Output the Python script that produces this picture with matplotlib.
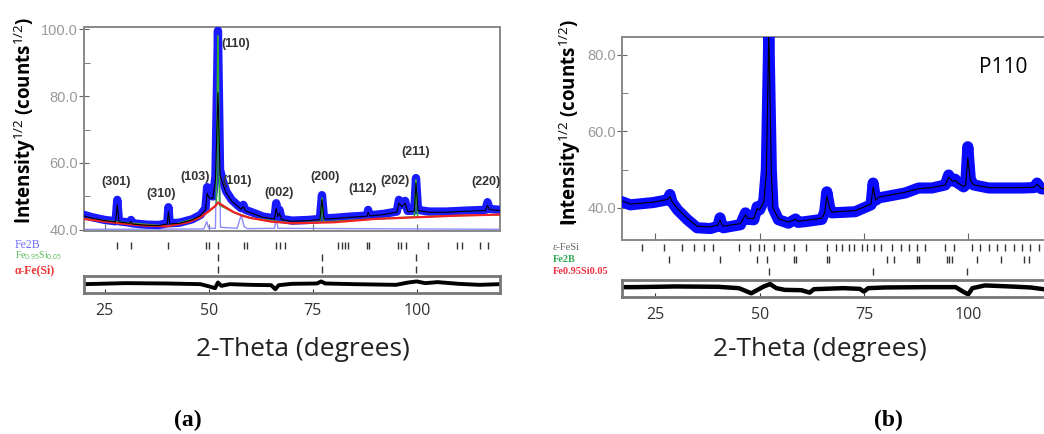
import matplotlib
matplotlib.use("Agg")
import matplotlib.pyplot as plt
from matplotlib.lines import Line2D

plt.rcParams['font.family'] = ['Open Sans', 'DejaVu Sans']
plt.rcParams['mathtext.fontset'] = 'custom'
plt.rcParams['mathtext.rm'] = 'Open Sans'
plt.rcParams['mathtext.bf'] = 'Open Sans:bold'

# ---------------- panel (a) data ----------------
a_obs_x = [20, 22, 25, 27.6, 28.0, 28.4, 31, 31.3, 31.6, 35, 38, 40.0, 40.3, 40.6, 43, 46, 48,
           49.2, 49.6, 50.1, 51.0, 51.6, 52.2, 52.7, 53.3, 54.2, 55.5, 57, 57.8, 58.3, 58.8, 61,
           63, 65.8, 66.2, 66.6, 67.0, 67.5, 70, 74, 76.7, 77.2, 77.7, 80, 84, 88.0, 88.3, 88.7,
           92, 95.2, 95.7, 96.4, 97.2, 97.8, 99.4, 99.8, 100.3, 103, 107, 112, 116.5, 117.0,
           117.5, 120]
a_obs_y = [44.5, 43.8, 43.0, 42.6, 49.0, 42.6, 42.2, 43.0, 42.0, 41.6, 41.5, 42.0, 46.8, 42.0,
           42.2, 43.2, 44.5, 46.5, 52.8, 50.5, 50.0, 56.0, 99.5, 58.0, 55.0, 51.5, 49.0, 47.3,
           46.5, 47.5, 46.0, 45.0, 44.0, 43.5, 48.0, 44.5, 46.0, 43.3, 42.8, 43.0, 43.3, 50.4,
           43.5, 43.6, 44.0, 44.3, 46.0, 44.4, 44.8, 45.5, 49.0, 47.5, 48.7, 45.7, 45.8, 55.5,
           46.0, 45.5, 45.5, 45.8, 46.0, 48.3, 46.3, 46.0]
a_calc_y = [44.2, 43.5, 42.8, 42.4, 47.5, 42.4, 42.0, 42.5, 41.8, 41.4, 41.3, 41.8, 45.5, 41.8,
            42.0, 43.0, 44.3, 46.0, 51.0, 49.5, 49.5, 55.0, 81.0, 56.5, 54.0, 51.0, 48.6, 47.0,
            46.2, 47.0, 45.7, 44.7, 43.8, 43.3, 46.5, 44.0, 45.0, 43.1, 42.6, 42.8, 43.1, 49.0,
            43.3, 43.4, 43.8, 44.1, 45.3, 44.2, 44.6, 45.3, 48.0, 47.0, 48.0, 45.5, 45.6, 54.0,
            45.8, 45.3, 45.3, 45.6, 45.8, 47.3, 46.1, 45.8]

a_bg_x = [20, 25, 30, 35, 40, 45, 48, 50, 51.5, 52.2, 53, 54, 56, 58, 60, 65, 70, 80, 90, 100,
          110, 120]
a_bg_y = [43.3, 42.5, 41.8, 41.3, 41.1, 42.3, 43.8, 45.6, 47.1, 48.2, 47.6, 46.8, 45.3, 44.3,
          43.6, 42.5, 42.0, 42.3, 43.3, 43.8, 44.3, 44.6]

a_fesi_x = [20, 40, 48, 51.8, 52.2, 52.6, 56, 60, 70, 76.8, 77.2, 77.6, 90, 99.4, 99.8, 100.2,
            110, 120]
a_fesi_y = [43.3, 41.1, 43.8, 47.4, 98.0, 47.4, 45.3, 43.6, 42.0, 42.4, 49.5, 42.4, 43.3, 43.9,
            55.0, 43.9, 44.3, 44.6]

a_fe2b_x = [20, 48.8, 49.5, 50.0, 51.6, 52.2, 52.8, 56.8, 57.8, 58.5, 59.3, 65.8, 66.2, 66.6, 120]
a_fe2b_y = [40.2, 40.3, 42.5, 40.5, 40.5, 99.5, 40.8, 40.5, 44.5, 41.0, 40.4, 40.5, 44.0, 40.5, 40.2]

a_diff_x = [20, 30, 40, 48, 50.5, 51.5, 52.2, 53, 55, 60, 65, 66, 66.8, 70, 76, 77, 78, 85, 95,
            98, 100, 102, 105, 110, 115, 120]
a_diff_y = [0, 0.3, 0.2, 0, -0.8, -1.2, 0.5, -0.5, 0, -0.2, -0.3, -1.5, -0.3, 0.1, 0.2, 0.8, 0.2,
            0, -0.2, 0.5, 0.8, 0.3, 0.6, 0.1, -0.2, 0]

a_fe2b_refl = [28.0, 31.2, 40.3, 49.3, 50.1, 52.3, 58.5, 59.1, 66.2, 67.0, 68.3, 81.1, 81.9, 82.7,
               83.5, 88.0, 88.4, 95.6, 96.3, 97.5, 102.8, 109.6, 110.8, 115.2, 117.2]
a_fesi_refl = [52.2, 77.1, 99.8]

a_hkl = ['(301)', '(310)', '(103)', '(110)', '(101)', '(002)', '(200)', '(112)', '(202)',
         '(211)', '(220)']
a_hkl_pos = [(27.7, 54.3), (38.5, 50.7), (46.6, 55.8), (56.4, 95.5), (56.8, 54.6), (66.9, 51.0),
             (78.0, 55.8), (86.9, 52.2), (94.8, 54.6), (99.8, 63.3), (116.6, 54.3)]

# ---------------- panel (b) data ----------------
b_obs_x = [17, 19, 24.5, 27.9, 28.5, 29.0, 30.3, 32.7, 35, 38.2, 40.0, 40.5, 41.0, 41.3, 45.4,
           46.6, 47.2, 48.6, 49.4, 50.0, 51, 51.6, 52.2, 52.8, 53.2, 54.5, 56.9, 58.6, 59.2, 60.9,
           64.9, 65.6, 66.1, 66.8, 67.3, 72.9, 76.7, 77.2, 77.8, 78.5, 84.9, 88.1, 91.3, 94.5,
           95.3, 96.2, 96.9, 97.5, 98.9, 99.4, 99.9, 100.5, 101.3, 104.9, 112.9, 115.8, 116.5,
           117.5, 122]
b_obs_y = [41.6, 40.8, 41.4, 42.1, 43.5, 41.5, 39.5, 36.9, 34.8, 34.6, 35.2, 37.4, 35.2, 34.8,
           35.6, 38.7, 37.0, 36.9, 40.3, 39.5, 42.0, 50.0, 86.0, 50.0, 40.0, 36.9, 36.0, 37.1,
           36.2, 36.4, 37.0, 39.0, 44.2, 40.0, 38.7, 39.0, 40.8, 46.5, 42.0, 42.6, 43.9, 45.2,
           45.2, 46.0, 48.6, 47.0, 47.5, 46.5, 45.5, 46.0, 56.0, 47.5, 46.0, 45.2, 45.2, 45.3,
           46.5, 45.0, 44.5]
b_calc_y = [41.8, 41.0, 41.5, 42.2, 43.0, 41.6, 39.8, 37.2, 35.2, 35.0, 35.5, 36.8, 35.5, 35.2,
            35.9, 38.2, 37.2, 37.2, 39.8, 39.5, 41.5, 49.0, 86.0, 49.0, 40.0, 37.2, 36.3, 37.0,
            36.5, 36.7, 37.3, 38.8, 43.0, 39.8, 38.9, 39.3, 41.0, 45.5, 42.0, 42.8, 44.1, 45.0,
            45.3, 46.0, 48.0, 47.0, 47.2, 46.5, 45.6, 46.0, 53.0, 47.2, 46.0, 45.3, 45.3, 45.4,
            46.2, 45.1, 44.6]

b_diff_x = [17, 20, 30, 40, 45, 47, 48, 49.5, 51, 52.5, 54, 56, 60, 62, 63, 70, 74, 75, 76, 80,
            90, 97, 99, 100, 101, 104, 110, 115, 118, 122]
b_diff_y = [0.3, 0.3, 0.5, 0.4, 0, -1, -1.5, -0.5, 0.5, 1.2, 0, -0.5, -0.6, -1.3, -0.3, 0, -0.2,
            -1, 0, 0.2, 0.3, 0.3, -1.2, -1.8, 0, 0.8, 0.5, 0.2, -0.3, 0]

b_efesi_refl = [21.8, 27.0, 31.4, 34.2, 36.6, 38.8, 45.0, 47.8, 49.8, 51.0, 53.4, 55.8, 58.2,
                61.0, 66.2, 68.2, 69.8, 71.4, 72.6, 74.6, 75.8, 77.4, 79.0, 81.8, 83.8, 85.7,
                87.8, 89.7, 94.5, 96.5, 100.9, 102.9, 104.9, 106.9, 108.9, 110.9, 112.9, 114.9,
                116.9]
b_fe2b_refl = [28.2, 40.4, 49.4, 51.8, 58.2, 58.6, 66.2, 66.6, 80.6, 82.2, 87.8, 88.2, 95.0,
               95.4, 96.2, 102.1, 107.8, 113.4, 114.6]
b_fesi_refl = [52.2, 77.1, 99.8]

W, H = 1044, 434


def rect(x0, y0, x1, y1):
    return [x0 / W, 1 - y1 / H, (x1 - x0) / W, (y1 - y0) / H]


def style_main(ax, ylim, yt, ymin):
    ax.set_ylim(*ylim)
    ax.set_yticks(yt)
    ax.set_yticklabels(['%.1f' % v for v in yt])
    ax.set_yticks(ymin, minor=True)
    ax.set_xticks([25, 50, 75, 100])
    ax.tick_params(axis='x', direction='in', length=5, labelbottom=False, color='#666')
    ax.tick_params(axis='y', which='major', direction='inout', length=7, color='#666',
                   labelcolor='#999', labelsize=10.5, pad=1)
    ax.tick_params(axis='y', which='minor', direction='in', length=4, color='#666')
    for lab in ax.get_yticklabels():
        lab.set_family('Liberation Sans')
    for s in ax.spines.values():
        s.set_color('#888')
        s.set_linewidth(1.4)


def refl_rows(ax, rows, colors):
    ax.set_ylim(0, len(rows))
    ax.axis('off')
    n = len(rows)
    for i, (pos, c) in enumerate(zip(rows, colors)):
        lo = n - i - 1
        ax.vlines(pos, lo + 0.25, lo + 0.8, color=c, lw=1.0)


def style_diff(ax, xlim):
    ax.set_xlim(*xlim)
    ax.set_ylim(-2.6, 2.4)
    ax.set_yticks([])
    ax.set_xticks([25, 50, 75, 100])
    ax.tick_params(axis='x', direction='in', length=3, colors='#333', labelsize=11.5, pad=7)
    for s in ax.spines.values():
        s.set_color('#777')
        s.set_linewidth(2.0)


fig = plt.figure(figsize=(W / 100, H / 100), dpi=100)

# ---------------- (a) ----------------
ax = fig.add_axes(rect(84, 27, 500, 231))
ax.set_xlim(20, 120)
ax.plot(a_fe2b_x, a_fe2b_y, color='#8c8cff', lw=1.0, zorder=2)
ax.plot(a_obs_x, a_obs_y, color='#1a1aff', lw=6, zorder=3, solid_joinstyle='round')
ax.plot(a_fesi_x, a_fesi_y, color='#33aa33', lw=1.2, zorder=3.5)
ax.plot(a_bg_x, a_bg_y, color='#ee2222', lw=1.6, zorder=4)
ax.plot(a_obs_x, a_calc_y, color='black', lw=0.8, zorder=6)
style_main(ax, (39.7, 100.6), [40, 60, 80, 100], [50, 70, 90])
for lab, (hx, hy) in zip(a_hkl, a_hkl_pos):
    ax.text(hx, hy, lab, ha='center', va='center', fontsize=9, fontweight='bold',
            color='#333', family='Liberation Sans')

axr = fig.add_axes(rect(84, 240, 500, 276))
axr.set_xlim(20, 120)
refl_rows(axr, [a_fe2b_refl, a_fesi_refl, a_fesi_refl], ['#333', '#333', '#333'])

axd = fig.add_axes(rect(84, 276, 500, 293))
axd.plot(a_diff_x, a_diff_y, color='black', lw=2.8)
style_diff(axd, (20, 120))

fig.text(25 / W, 1 - 120 / H, r'Intensity$^{1/2}$ (counts$^{1/2}$)', rotation=90,
         ha='center', va='center', fontsize=13.5, fontweight='bold')
fig.text(303 / W, 1 - 350 / H, '2-Theta (degrees)', ha='center', va='center', fontsize=19,
         color='#222')
fig.text(188 / W, 1 - 420 / H, '(a)', ha='center', va='center', fontsize=17,
         family='Liberation Serif', fontweight='bold')
fig.text(15 / W, 1 - 245 / H, 'Fe2B', color='#6a6aff', fontsize=8.5, va='center',
         family='Liberation Serif')
fig.text(15 / W, 1 - 256 / H, r'Fe$_{0.95}$Si$_{0.05}$', color='#55bb55', fontsize=7,
         va='center', family='Liberation Serif')
fig.text(15 / W, 1 - 270 / H, 'α-Fe(Si)', color='#ee3333', fontsize=8.5, va='center',
         family='Liberation Serif', fontweight='bold')
fig.add_artist(Line2D([15 / W, 28 / W], [1 - 221 / H, 1 - 221 / H], color='black', lw=1.5))

# ---------------- (b) ----------------
bx = fig.add_axes(rect(622, 37, 1060, 240))
bx.set_xlim(17, 122)
bx.plot(b_obs_x, b_obs_y, color='#0a0aff', lw=8, zorder=3, solid_joinstyle='round')
bx.plot(b_obs_x, b_calc_y, color='black', lw=0.8, zorder=4)
style_main(bx, (31.6, 84.7), [40, 60, 80], [50, 70])
bx.text(0.87, 0.85, 'P110', transform=bx.transAxes, ha='center', va='center', fontsize=15)

bxr = fig.add_axes(rect(622, 242, 1060, 278))
bxr.set_xlim(17, 122)
refl_rows(bxr, [b_efesi_refl, b_fe2b_refl, b_fesi_refl], ['#333', '#333', '#333'])

bxd = fig.add_axes(rect(622, 280, 1060, 297))
bxd.plot(b_diff_x, b_diff_y, color='black', lw=3.2)
style_diff(bxd, (17, 122))

fig.text(570 / W, 1 - 122 / H, r'Intensity$^{1/2}$ (counts$^{1/2}$)', rotation=90,
         ha='center', va='center', fontsize=13.5, fontweight='bold')
fig.text(820 / W, 1 - 350 / H, '2-Theta (degrees)', ha='center', va='center', fontsize=19,
         color='#222')
fig.text(888 / W, 1 - 420 / H, '(b)', ha='center', va='center', fontsize=17,
         family='Liberation Serif', fontweight='bold')
fig.text(553 / W, 1 - 248 / H, 'ε-FeSi', color='#666', fontsize=7.5, va='center',
         family='Liberation Serif')
fig.text(553 / W, 1 - 260 / H, 'Fe2B', color='#33aa55', fontsize=7.5, va='center',
         family='Liberation Serif', fontweight='bold')
fig.text(553 / W, 1 - 272 / H, 'Fe0.95Si0.05', color='#ee3344', fontsize=7.5, va='center',
         family='Liberation Serif', fontweight='bold')
fig.add_artist(Line2D([562 / W, 575 / W], [1 - 222 / H, 1 - 222 / H], color='black', lw=1.5))

fig.savefig('out.png', dpi=100)
